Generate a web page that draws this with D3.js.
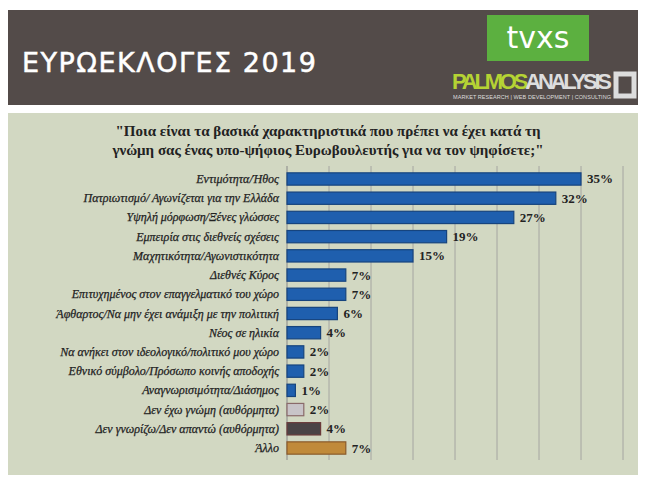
<!DOCTYPE html>
<html><head><meta charset="utf-8">
<script src="https://cdn.jsdelivr.net/npm/d3@7"></script>
<style>body{margin:0;background:#fff}</style></head>
<body><svg id="c" width="650" height="487"></svg>
<script>
const categories = ["Εντιμότητα/Ήθος","Πατριωτισμό/ Αγωνίζεται για την Ελλάδα","Υψηλή μόρφωση/Ξένες γλώσσες","Εμπειρία στις διεθνείς σχέσεις","Μαχητικότητα/Αγωνιστικότητα","Διεθνές Κύρος","Επιτυχημένος στον επαγγελματικό του χώρο","Άφθαρτος/Να μην έχει ανάμιξη με την πολιτική","Νέος σε ηλικία","Να ανήκει στον ιδεολογικό/πολιτικό μου χώρο","Εθνικό σύμβολο/Πρόσωπο κοινής αποδοχής","Αναγνωρισιμότητα/Διάσημος","Δεν έχω γνώμη (αυθόρμητα)","Δεν γνωρίζω/Δεν απαντώ (αυθόρμητα)","Άλλο"];
const values = [35,32,27,19,15,7,7,6,4,2,2,1,2,4,7];
const fills = categories.map((c,i)=> i<12 ? "#1f5fae" : ["#c8c4c8","#4a4446","#c08a3a"][i-12]);
const strokes = categories.map((c,i)=> i<12 ? "#16447e" : ["#8a6a6a","#6a3a3a","#8a5a2a"][i-12]);

const svg = d3.select("#c");
svg.append("rect").attr("x",8).attr("y",10).attr("width",630).attr("height",95).attr("fill","#534b49");
svg.append("text").attr("x",22).attr("y",72).attr("fill","#fff").attr("font-family","DejaVu Sans").attr("font-size",27).attr("letter-spacing",1.5)
  .attr("stroke","#fff").attr("stroke-width",0.5).text("ΕΥΡΩΕΚΛΟΓΕΣ 2019");
svg.append("rect").attr("x",487).attr("y",15).attr("width",102).attr("height",46).attr("fill","#5cb040");
svg.append("text").attr("x",538).attr("y",48).attr("text-anchor","middle").attr("fill","#fff").attr("font-family","DejaVu Sans").attr("font-size",30).text("tvxs");
const pa = svg.append("text").attr("x",452).attr("y",89).attr("font-family","Liberation Sans Narrow, Liberation Sans").attr("font-weight","bold").attr("font-size",22).attr("textLength",160);
pa.append("tspan").attr("fill","#b5d334").text("PALMOS");
pa.append("tspan").attr("fill","#ddd").text("ANALYSIS");
svg.append("text").attr("x",453).attr("y",99).attr("fill","#ddd").attr("font-family","Liberation Sans").attr("font-size",5.5).attr("textLength",158).text("MARKET RESEARCH | WEB DEVELOPMENT | CONSULTING");
svg.append("rect").attr("x",616).attr("y",74).attr("width",18).attr("height",22).attr("fill","none").attr("stroke","#ddd").attr("stroke-width",5);

svg.append("rect").attr("x",8).attr("y",113).attr("width",630).attr("height",362).attr("fill","#d2d8c2");
const t = svg.append("text").attr("text-anchor","middle").attr("font-family","Liberation Serif").attr("font-weight","bold").attr("font-size",15).attr("fill","#222");
t.append("tspan").attr("x",328).attr("y",136).text("\"Ποια είναι τα βασικά χαρακτηριστικά που πρέπει να έχει κατά τη");
t.append("tspan").attr("x",328).attr("y",155).text("γνώμη σας ένας υπο-ψήφιος Ευρωβουλευτής για να τον ψηφίσετε;\"");

const x = d3.scaleLinear().domain([0,40]).range([287,623]);
const y = d3.scaleBand().domain(categories).range([169,458]).paddingInner(0.36).paddingOuter(0.2);
const g = svg.append("g");
g.selectAll("line.grid").data([5,10,15,20,25,30,35,40]).join("line")
  .attr("x1",d=>x(d)).attr("x2",d=>x(d)).attr("y1",166).attr("y2",460).attr("stroke","#9a9a9a").attr("stroke-width",0.8);
g.append("line").attr("x1",x(0)).attr("x2",x(0)).attr("y1",166).attr("y2",460).attr("stroke","#888");
g.selectAll("rect.bar").data(values).join("rect")
  .attr("x",x(0)).attr("y",(d,i)=>y(categories[i])).attr("width",d=>x(d)-x(0)).attr("height",y.bandwidth())
  .attr("fill",(d,i)=>fills[i]).attr("stroke",(d,i)=>strokes[i]).attr("stroke-width",1.2);
g.selectAll("text.val").data(values).join("text")
  .attr("x",d=>x(d)+6).attr("y",(d,i)=>y(categories[i])+y.bandwidth()/2+4.5)
  .attr("font-family","Liberation Serif").attr("font-weight","bold").attr("font-size",13).attr("fill","#222").text(d=>d+"%");
g.selectAll("text.cat").data(categories).join("text")
  .attr("x",279).attr("y",d=>y(d)+y.bandwidth()/2+4).attr("text-anchor","end")
  .attr("font-family","Liberation Serif").attr("font-style","italic").attr("font-size",12).attr("fill","#222")
  .attr("stroke","#222").attr("stroke-width",0.25).text(d=>d);
</script></body></html>
